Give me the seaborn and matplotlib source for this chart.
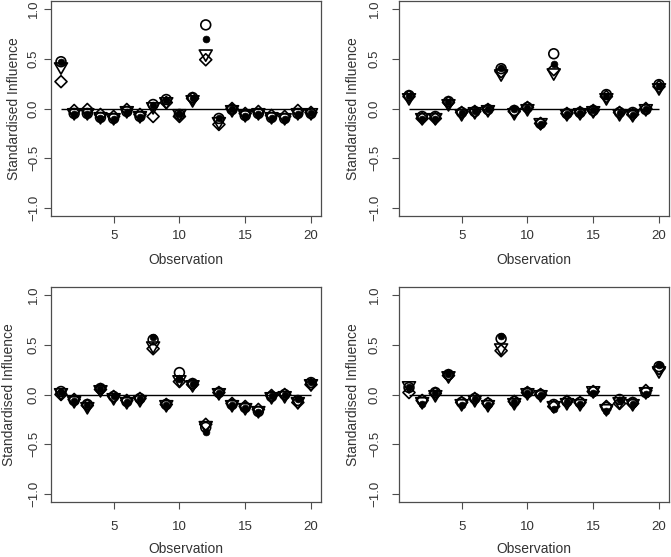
import numpy as np
import pandas as pd
import matplotlib
matplotlib.use("Agg")
import matplotlib.pyplot as plt
from matplotlib.path import Path
import seaborn as sns

obs = np.arange(1, 21)

# panel 1 (top left)
p1_open = [0.47, -0.05, -0.05, -0.09, -0.10, -0.03, -0.08, 0.04, 0.09, -0.06, 0.11, 0.84, -0.10, -0.01, -0.07, -0.05, -0.09, -0.10, -0.05, -0.05]
p1_filled = [0.47, -0.06, -0.06, -0.10, -0.11, -0.04, -0.09, 0.04, 0.09, -0.06, 0.11, 0.70, -0.10, -0.01, -0.08, -0.06, -0.10, -0.11, -0.06, -0.05]
p1_tri = [0.42, -0.04, -0.04, -0.08, -0.09, -0.02, -0.07, 0.02, 0.07, -0.05, 0.09, 0.55, -0.13, -0.01, -0.06, -0.04, -0.08, -0.09, -0.04, -0.04]
p1_diam = [0.27, -0.02, -0.01, -0.06, -0.08, -0.01, -0.06, -0.08, 0.06, -0.08, 0.10, 0.49, -0.16, 0.00, -0.05, -0.03, -0.07, -0.08, -0.02, -0.04]

# panel 2 (top right)
p2_open = [0.13, -0.08, -0.08, 0.07, -0.04, -0.03, -0.01, 0.40, -0.02, 0.01, -0.15, 0.55, -0.05, -0.04, -0.02, 0.14, -0.04, -0.04, -0.01, 0.24]
p2_filled = [0.13, -0.11, -0.11, 0.07, -0.05, -0.03, -0.01, 0.41, -0.01, 0.01, -0.16, 0.45, -0.06, -0.05, -0.02, 0.13, -0.05, -0.07, -0.01, 0.23]
p2_tri = [0.11, -0.09, -0.09, 0.05, -0.05, -0.03, -0.01, 0.35, -0.04, 0.00, -0.14, 0.36, -0.05, -0.04, -0.02, 0.11, -0.05, -0.06, 0.00, 0.21]
p2_diam = [0.12, -0.10, -0.10, 0.06, -0.04, -0.03, -0.01, 0.37, -0.03, 0.01, -0.15, 0.39, -0.05, -0.04, -0.02, 0.12, -0.04, -0.06, 0.00, 0.22]

# panel 3 (bottom left)
p3_open = [0.03, -0.06, -0.10, 0.06, -0.02, -0.07, -0.04, 0.55, -0.10, 0.22, 0.11, -0.33, 0.02, -0.10, -0.13, -0.17, -0.02, 0.00, -0.06, 0.12]
p3_filled = [0.03, -0.07, -0.11, 0.06, -0.02, -0.08, -0.05, 0.58, -0.11, 0.16, 0.11, -0.38, 0.02, -0.11, -0.14, -0.18, -0.02, 0.00, -0.05, 0.13]
p3_tri = [0.02, -0.06, -0.12, 0.05, -0.03, -0.07, -0.05, 0.49, -0.10, 0.15, 0.10, -0.31, 0.02, -0.10, -0.13, -0.16, -0.02, -0.01, -0.07, 0.11]
p3_diam = [0.00, -0.05, -0.11, 0.05, -0.02, -0.06, -0.04, 0.46, -0.10, 0.13, 0.10, -0.30, 0.02, -0.09, -0.12, -0.15, -0.01, 0.00, -0.08, 0.10]

# panel 4 (bottom right)
p4_open = [0.07, -0.06, 0.02, 0.20, -0.08, -0.04, -0.09, 0.56, -0.07, 0.02, 0.00, -0.10, -0.07, -0.08, 0.03, -0.13, -0.05, -0.08, 0.02, 0.28]
p4_filled = [0.08, -0.10, 0.02, 0.21, -0.11, -0.05, -0.11, 0.59, -0.08, 0.02, 0.00, -0.15, -0.08, -0.10, 0.02, -0.17, -0.06, -0.10, 0.01, 0.30]
p4_tri = [0.09, -0.07, 0.00, 0.19, -0.09, -0.05, -0.10, 0.47, -0.08, 0.02, 0.00, -0.11, -0.08, -0.09, 0.04, -0.14, -0.07, -0.09, 0.03, 0.24]
p4_diam = [0.02, -0.06, 0.01, 0.19, -0.08, -0.04, -0.09, 0.44, -0.07, 0.02, 0.00, -0.12, -0.07, -0.08, 0.03, -0.12, -0.09, -0.09, 0.04, 0.26]

panels = [
    (p1_open, p1_filled, p1_tri, p1_diam),
    (p2_open, p2_filled, p2_tri, p2_diam),
    (p3_open, p3_filled, p3_tri, p3_diam),
    (p4_open, p4_filled, p4_tri, p4_diam),
]

x_ticks = [5, 10, 15, 20]
y_ticks = [-1.0, -0.5, 0.0, 0.5, 1.0]
y_tick_labels = ["\u22121.0", "\u22120.5", "0.0", "0.5", "1.0"]

sns.set_theme(style="ticks")
plt.rcParams["font.family"] = ["Liberation Sans", "DejaVu Sans"]
plt.rcParams["font.size"] = 9.5

# R-style open symbols (closed outlines)
tri_marker = Path([(-1, 0.577), (1, 0.577), (0, -1.155), (-1, 0.577)], closed=True)
diam_marker = Path([(0, 1), (1, 0), (0, -1), (-1, 0), (0, 1)], closed=True)

fig = plt.figure(figsize=(6.71, 5.57), dpi=100)
W, H = 671, 557
boxes = [(51, 1, 270, 215), (399, 1, 270, 215), (51, 287, 270, 215), (399, 287, 270, 215)]
# per panel: y tick pad, y label pad, x tick pad, x label pad
pads = [(3, 5.1, 5, 7.9), (8, 6.6, 5, 7.9), (3, 8.7, 8.6, 6.6), (8, 6.6, 8.6, 6.6)]

frame_col = "#4d4d4d"
text_col = "#333333"
lw = 1.2

for (px, py, pw, ph), (op, fi, tr, di), (ytp, ylp, xtp, xlp) in zip(boxes, panels, pads):
    ax = fig.add_axes([px / W, 1 - (py + ph) / H, pw / W, ph / H])
    ax.hlines(0, obs.min(), obs.max(), color="black", linewidth=1.0, zorder=1)
    sns.scatterplot(x=obs, y=di, marker=diam_marker, s=75, color="black",
                    facecolors="none", edgecolor="black", linewidth=lw, ax=ax, zorder=2)
    sns.scatterplot(x=obs, y=tr, marker=tri_marker, s=115, color="black",
                    facecolors="none", edgecolor="black", linewidth=lw, ax=ax, zorder=2)
    sns.scatterplot(x=obs, y=op, marker="o", s=50, color="black",
                    facecolors="none", edgecolor="black", linewidth=lw, ax=ax, zorder=3)
    sns.scatterplot(x=obs, y=fi, marker="o", s=24, color="black",
                    edgecolor="black", linewidth=0.5, ax=ax, zorder=4)
    ax.set_xlim(0.24, 20.76)
    ax.set_ylim(-1.08, 1.08)
    ax.set_xticks(x_ticks)
    ax.set_yticks(y_ticks)
    ax.set_yticklabels(y_tick_labels, rotation=90, va="center")
    ax.tick_params(length=5, width=0.8, color=frame_col, labelcolor=text_col,
                   labelsize=9.5)
    ax.tick_params(axis="y", pad=ytp)
    ax.tick_params(axis="x", pad=xtp)
    for sp in ax.spines.values():
        sp.set_color(frame_col)
        sp.set_linewidth(0.9)
    ax.set_xlabel("Observation", fontsize=10, color=text_col, labelpad=xlp)
    ax.set_ylabel("Standardised Influence", fontsize=10, color=text_col, labelpad=ylp)

fig.savefig("out.png", dpi=100)
